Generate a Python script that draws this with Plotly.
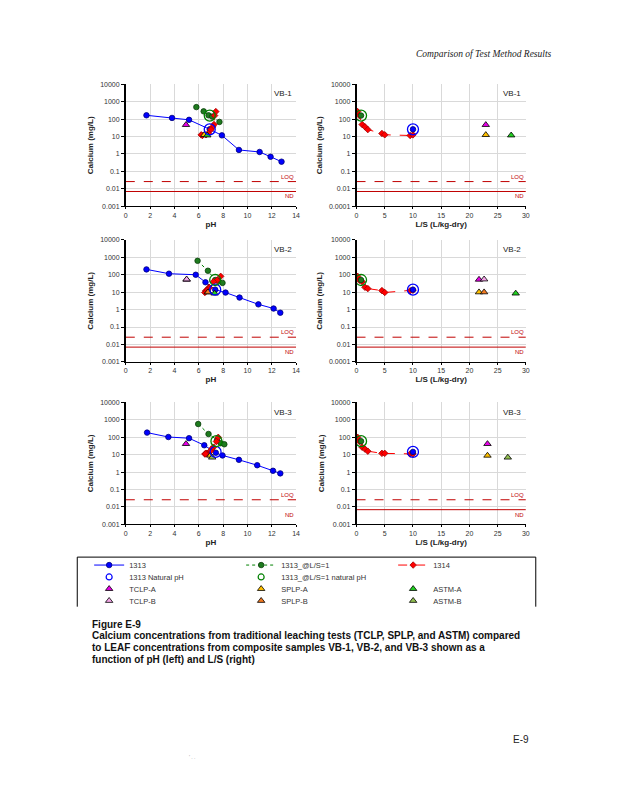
import math
import plotly.graph_objects as go

# ---------------- data ----------------
samples = ["VB-1", "VB-2", "VB-3"]

# EPA 1313 (pH series)
ph_1313_vb1 = [1.7, 3.8, 5.2, 6.9, 7.9, 9.3, 11.0, 11.9, 12.8]
ca_1313_vb1 = [166, 117, 91, 26, 11.7, 1.7, 1.3, 0.69, 0.36]
ph_1313_vb2 = [1.7, 3.55, 5.75, 6.55, 7.35, 8.2, 9.35, 10.9, 12.15, 12.7]
ca_1313_vb2 = [203, 115, 100, 37, 14, 9.5, 4.9, 2.0, 1.15, 0.66]
ph_1313_vb3 = [1.75, 3.5, 5.2, 6.45, 7.4, 7.95, 9.3, 10.8, 12.1, 12.7]
ca_1313_vb3 = [186, 104, 89, 35, 13, 9.1, 5.1, 2.5, 1.2, 0.85]

# 1313 natural pH (pH, L/S, Ca)
nat_ph_1313 = [6.9, 7.35, 7.38]
nat_ls_1313 = [10.0, 10.0, 10.0]
nat_ca_1313 = [26, 14, 14.5]

# 1313 at L/S = 1
ph_ls1_vb1 = [5.8, 6.4, 6.8, 7.1, 7.7]
ca_ls1_vb1 = [490, 280, 166, 140, 69]
ph_ls1_vb2 = [5.9, 6.75, 7.35, 7.6, 7.95]
ca_ls1_vb2 = [630, 170, 50, 45, 34]
ph_ls1_vb3 = [5.95, 6.8, 7.5, 7.8, 8.1]
ca_ls1_vb3 = [580, 155, 70, 46, 40]

# 1313 at L/S = 1, natural pH
nat_ph_ls1 = [6.9, 7.35, 7.45]
nat_ls_ls1 = [0.8, 0.8, 0.8]
nat_ca_ls1 = [160, 50, 60]

# EPA 1314 (column)
ls_1314 = [0.2, 0.5, 1.0, 1.5, 2.0, 4.5, 5.0, 9.5, 10.0]
ca_1314_vb1 = [270, 160, 49, 36, 25, 15, 12.6, 11.5, 12.5]
ph_1314_vb1 = [7.4, 7.3, 7.25, 7.15, 7.0, 6.8, 6.6, 6.3, 6.2]
ca_1314_vb2 = [81, 48, 40, 19, 16, 12.3, 9.6, 12, 13]
ph_1314_vb2 = [7.8, 7.5, 7.2, 6.85, 6.8, 6.6, 6.5, 6.6, 6.7]
ca_1314_vb3 = [100, 58, 27, 21, 16, 12, 12, 11, 11.2]
ph_1314_vb3 = [7.6, 7.45, 7.2, 7.05, 6.95, 6.7, 6.6, 6.5, 6.55]

# single-point tests per sample: (pH, L/S, Ca); None = not tested
tclp_a_ph = [4.95, 5.0, 4.95]
tclp_a_ls = [22.9, 21.7, 23.2]
tclp_a_ca = [47, 53, 42]
tclp_b_ph = [None, 5.0, None]
tclp_b_ls = [None, 22.6, None]
tclp_b_ca = [None, 55, None]
splp_a_ph = [6.45, 6.8, 6.95]
splp_a_ls = [22.9, 21.7, 23.2]
splp_a_ca = [12.5, 10, 9]
splp_b_ph = [None, 6.75, None]
splp_b_ls = [None, 22.6, None]
splp_b_ca = [None, 10, None]
astm_a_ph = [6.7, 7.3, None]
astm_a_ls = [27.4, 28.2, None]
astm_a_ca = [11.8, 8.5, None]
astm_b_ph = [None, None, 7.1]
astm_b_ls = [None, None, 26.8]
astm_b_ca = [None, None, 7]

loq_value = 0.026
nd_value = 0.007

y_tick_vals = [0.001, 0.01, 0.1, 1, 10, 100, 1000, 10000]
y_tick_text_left = ["0.001", "0.01", "0.1", "1", "10", "100", "1000", "10000"]
y_tick_text_right = [["0.0001", "0.01", "0.1", "1", "10", "100", "1000", "10000"],
                     ["0.0001", "0.01", "0.1", "1", "10", "100", "1000", "10000"],
                     ["0.001", "0.01", "0.1", "1", "10", "100", "1000", "10000"]]

# ---------------- styling ----------------
W, H = 618, 800
FONT = "Liberation Sans"
BLUE = "#0000FF"
GREEN = "#008000"
GREEN_FILL = "#1E7B1E"
RED = "#FF0000"
DARKRED = "#C00000"
C_TCLP_A = "#E600E6"
C_TCLP_B = "#F4A6E8"
C_SPLP_A = "#FFC000"
C_SPLP_B = "#F47A20"
C_ASTM_A = "#22D022"
C_ASTM_B = "#92C050"

row_top = [81, 238, 402]
row_bot = [204, 361, 525]
col_left = [125, 358]
col_right = [297, 529]


def px(v):
    return v / W


def py(v):
    return 1 - v / H


series_1313 = [(ph_1313_vb1, ca_1313_vb1), (ph_1313_vb2, ca_1313_vb2), (ph_1313_vb3, ca_1313_vb3)]
series_ls1 = [(ph_ls1_vb1, ca_ls1_vb1), (ph_ls1_vb2, ca_ls1_vb2), (ph_ls1_vb3, ca_ls1_vb3)]
series_1314 = [(ph_1314_vb1, ca_1314_vb1), (ph_1314_vb2, ca_1314_vb2), (ph_1314_vb3, ca_1314_vb3)]
single_tests = [
    (tclp_a_ph, tclp_a_ls, tclp_a_ca, C_TCLP_A),
    (tclp_b_ph, tclp_b_ls, tclp_b_ca, C_TCLP_B),
    (splp_a_ph, splp_a_ls, splp_a_ca, C_SPLP_A),
    (splp_b_ph, splp_b_ls, splp_b_ca, C_SPLP_B),
    (astm_a_ph, astm_a_ls, astm_a_ca, C_ASTM_A),
    (astm_b_ph, astm_b_ls, astm_b_ca, C_ASTM_B),
]

fig = go.Figure()
layout = dict(
    width=W, height=H, margin=dict(l=0, r=0, t=0, b=0),
    paper_bgcolor="white", plot_bgcolor="white",
    font=dict(family=FONT, size=7, color="#333333"),
    showlegend=True,
)
annotations = []
shapes = []

line_1313 = dict(color=BLUE, width=1)
mk_1313 = dict(symbol="circle", size=5.5, color=BLUE, line=dict(color="#00007A", width=0.8))
line_ls1 = dict(color=GREEN, width=1, dash="dot")
mk_ls1 = dict(symbol="circle", size=5.5, color=GREEN_FILL, line=dict(color="#0B3D0B", width=0.8))
line_1314 = dict(color=RED, width=1, dash="dash")
mk_1314 = dict(symbol="diamond", size=5, color=RED, line=dict(color="#A00000", width=0.8))
ring_size = 11


def tri(color):
    return dict(symbol="triangle-up", size=6.5, color=color, line=dict(color="black", width=0.8))


for r in range(3):
    for c in range(2):
        k = r * 2 + c + 1
        xs = "x" if k == 1 else f"x{k}"
        ys = "y" if k == 1 else f"y{k}"
        xa = "xaxis" if k == 1 else f"xaxis{k}"
        ya = "yaxis" if k == 1 else f"yaxis{k}"
        xmax = 14 if c == 0 else 30
        layout[xa] = dict(
            domain=[px(col_left[c]), px(col_right[c])], anchor=ys,
            range=[0, xmax], dtick=2 if c == 0 else 5, tick0=0,
            showgrid=True, gridcolor="#D9D9D9", gridwidth=1,
            showline=True, linecolor="black", linewidth=1,
            ticks="outside", ticklen=2, tickcolor="black",
            tickfont=dict(size=7, color="#333333"), zeroline=False,
            title=dict(text="<b>pH</b>" if c == 0 else "<b>L/S (L/kg-dry)</b>",
                       font=dict(size=8, color="#222222"), standoff=3),
        )
        layout[ya] = dict(
            domain=[py(row_bot[r]), py(row_top[r])], anchor=xs,
            type="log", range=[-3, 4],
            tickvals=y_tick_vals,
            ticktext=y_tick_text_left if c == 0 else y_tick_text_right[r],
            showgrid=True, gridcolor="#D9D9D9", gridwidth=1,
            showline=True, linecolor="black", linewidth=1.5,
            ticks="outside", ticklen=3, tickcolor="black",
            tickfont=dict(size=7, color="#333333"), zeroline=False,
            title=dict(text="<b>Calcium (mg/L)</b>", font=dict(size=8, color="#222222"), standoff=5),
        )

        # LOQ / ND reference lines
        fig.add_trace(go.Scatter(x=[0, xmax], y=[loq_value, loq_value], mode="lines",
                                 line=dict(color=DARKRED, width=1, dash="dash"),
                                 xaxis=xs, yaxis=ys, showlegend=False, hoverinfo="skip"))
        if not (r == 2 and c == 0):
            fig.add_trace(go.Scatter(x=[0, xmax], y=[nd_value, nd_value], mode="lines",
                                     line=dict(color=DARKRED, width=1),
                                     xaxis=xs, yaxis=ys, showlegend=False, hoverinfo="skip"))
        annotations.append(dict(text="LOQ", xref=f"{xs} domain", yref=ys, x=1.0, y=math.log10(loq_value),
                                xanchor="right", yanchor="bottom", showarrow=False,
                                font=dict(size=6, color=DARKRED)))
        annotations.append(dict(text="ND", xref=f"{xs} domain", yref=ys, x=1.0, y=math.log10(nd_value),
                                xanchor="right", yanchor="top", showarrow=False,
                                font=dict(size=6, color=DARKRED)))
        annotations.append(dict(text=samples[r], xref=f"{xs} domain", yref=f"{ys} domain", x=0.985, y=0.975,
                                xanchor="right", yanchor="top", showarrow=False,
                                font=dict(size=8, color="#222222")))

        if c == 0:
            xp, yp = series_1313[r]
            fig.add_trace(go.Scatter(x=xp, y=yp, mode="lines+markers", line=line_1313, marker=mk_1313,
                                     xaxis=xs, yaxis=ys, showlegend=False))
            xp, yp = series_ls1[r]
            fig.add_trace(go.Scatter(x=xp, y=yp, mode="lines+markers", line=line_ls1, marker=mk_ls1,
                                     xaxis=xs, yaxis=ys, showlegend=False))
            xp, yp = series_1314[r]
            fig.add_trace(go.Scatter(x=xp, y=yp, mode="lines+markers", line=line_1314, marker=mk_1314,
                                     xaxis=xs, yaxis=ys, showlegend=False))
            for phs, lss, cas, col in single_tests:
                if phs[r] is not None:
                    fig.add_trace(go.Scatter(x=[phs[r]], y=[cas[r]], mode="markers", marker=tri(col),
                                             xaxis=xs, yaxis=ys, showlegend=False))
            fig.add_trace(go.Scatter(x=[nat_ph_1313[r]], y=[nat_ca_1313[r]], mode="markers",
                                     marker=dict(symbol="circle-open", size=ring_size, color=BLUE, line=dict(width=1.3)),
                                     xaxis=xs, yaxis=ys, showlegend=False))
            fig.add_trace(go.Scatter(x=[nat_ph_ls1[r]], y=[nat_ca_ls1[r]], mode="markers",
                                     marker=dict(symbol="circle-open", size=ring_size, color=GREEN, line=dict(width=1.3)),
                                     xaxis=xs, yaxis=ys, showlegend=False))
        else:
            ca1314 = series_1314[r][1]
            fig.add_trace(go.Scatter(x=ls_1314, y=ca1314, mode="lines+markers", line=line_1314, marker=mk_1314,
                                     xaxis=xs, yaxis=ys, showlegend=False))
            for phs, lss, cas, col in single_tests:
                if lss[r] is not None:
                    fig.add_trace(go.Scatter(x=[lss[r]], y=[cas[r]], mode="markers", marker=tri(col),
                                             xaxis=xs, yaxis=ys, showlegend=False))
            fig.add_trace(go.Scatter(x=[nat_ls_ls1[r]], y=[nat_ca_ls1[r]], mode="markers", marker=mk_ls1,
                                     xaxis=xs, yaxis=ys, showlegend=False))
            fig.add_trace(go.Scatter(x=[nat_ls_ls1[r]], y=[nat_ca_ls1[r]], mode="markers",
                                     marker=dict(symbol="circle-open", size=ring_size, color=GREEN, line=dict(width=1.3)),
                                     xaxis=xs, yaxis=ys, showlegend=False))
            fig.add_trace(go.Scatter(x=[nat_ls_1313[r]], y=[nat_ca_1313[r]], mode="markers", marker=mk_1313,
                                     xaxis=xs, yaxis=ys, showlegend=False))
            fig.add_trace(go.Scatter(x=[nat_ls_1313[r]], y=[nat_ca_1313[r]], mode="markers",
                                     marker=dict(symbol="circle-open", size=ring_size, color=BLUE, line=dict(width=1.3)),
                                     xaxis=xs, yaxis=ys, showlegend=False))

# ---------------- legend (legend-only entries, four rows) ----------------
legend_rows = [
    [("1313", "lines+markers", line_1313, mk_1313),
     ("1313_@L/S=1", "lines+markers", line_ls1, mk_ls1),
     ("1314", "lines+markers", line_1314, mk_1314)],
    [("1313 Natural pH", "markers", None, dict(symbol="circle-open", size=6, color=BLUE, line=dict(width=1.2))),
     ("1313_@L/S=1 natural pH", "markers", None, dict(symbol="circle-open", size=6, color=GREEN, line=dict(width=1.2)))],
    [("TCLP-A", "markers", None, tri(C_TCLP_A)),
     ("SPLP-A", "markers", None, tri(C_SPLP_A)),
     ("ASTM-A", "markers", None, tri(C_ASTM_A))],
    [("TCLP-B", "markers", None, tri(C_TCLP_B)),
     ("SPLP-B", "markers", None, tri(C_SPLP_B)),
     ("ASTM-B", "markers", None, tri(C_ASTM_B))],
]
legend_row_y = [566, 578, 590, 602]
for i, row in enumerate(legend_rows):
    lname = "legend" if i == 0 else f"legend{i + 1}"
    for name, mode, ln, mk in row:
        kw = dict(x=[None], y=[None], mode=mode, name=name, marker=mk, legend=lname, showlegend=True)
        if ln is not None:
            kw["line"] = ln
        fig.add_trace(go.Scatter(**kw))
    layout[lname] = dict(
        orientation="h", x=px(88), xanchor="left", y=py(legend_row_y[i]), yanchor="middle",
        entrywidth=107, entrywidthmode="pixels", bgcolor="rgba(0,0,0,0)", borderwidth=0,
        font=dict(size=7.5, color="#333333", family=FONT), itemwidth=30, tracegroupgap=0,
    )

# legend frame (open at the bottom, as on the page)
for (x0, y0, x1, y1) in [(76, 558, 539, 558), (76, 558, 76, 608), (539, 558, 539, 608)]:
    shapes.append(dict(type="line", xref="paper", yref="paper", x0=px(x0), y0=py(y0), x1=px(x1), y1=py(y1),
                       line=dict(color="black", width=1)))

# ---------------- page text ----------------
annotations.append(dict(text="<i>Comparison of Test Method Results</i>", xref="paper", yref="paper",
                        x=px(557), y=py(50), xanchor="right", yanchor="middle", showarrow=False,
                        font=dict(family="Liberation Serif", size=9.5, color="#222222")))
caption = [
    "Figure E-9",
    "Calcium concentrations from traditional leaching tests (TCLP, SPLP, and ASTM) compared",
    "to LEAF concentrations from composite samples VB-1, VB-2, and VB-3 shown as a",
    "function of pH (left) and L/S (right)",
]
caption_y = [626, 637, 649, 661]
for t, yy in zip(caption, caption_y):
    annotations.append(dict(text=f"<b>{t}</b>", xref="paper", yref="paper", x=px(89), y=py(yy),
                            xanchor="left", yanchor="middle", showarrow=False, align="left",
                            font=dict(family=FONT, size=10, color="#111111")))
annotations.append(dict(text="E-9", xref="paper", yref="paper", x=px(534), y=py(742), xanchor="right",
                        yanchor="middle", showarrow=False, font=dict(family=FONT, size=10, color="#222222")))
annotations.append(dict(text="' . .", xref="paper", yref="paper", x=px(187), y=py(760), xanchor="left",
                        yanchor="middle", showarrow=False, font=dict(family=FONT, size=5, color="#999999")))

layout["annotations"] = annotations
layout["shapes"] = shapes
fig.update_layout(**layout)
fig.write_html("out.html", config={"displayModeBar": False},
               post_script="document.body.style.margin='0px';")
